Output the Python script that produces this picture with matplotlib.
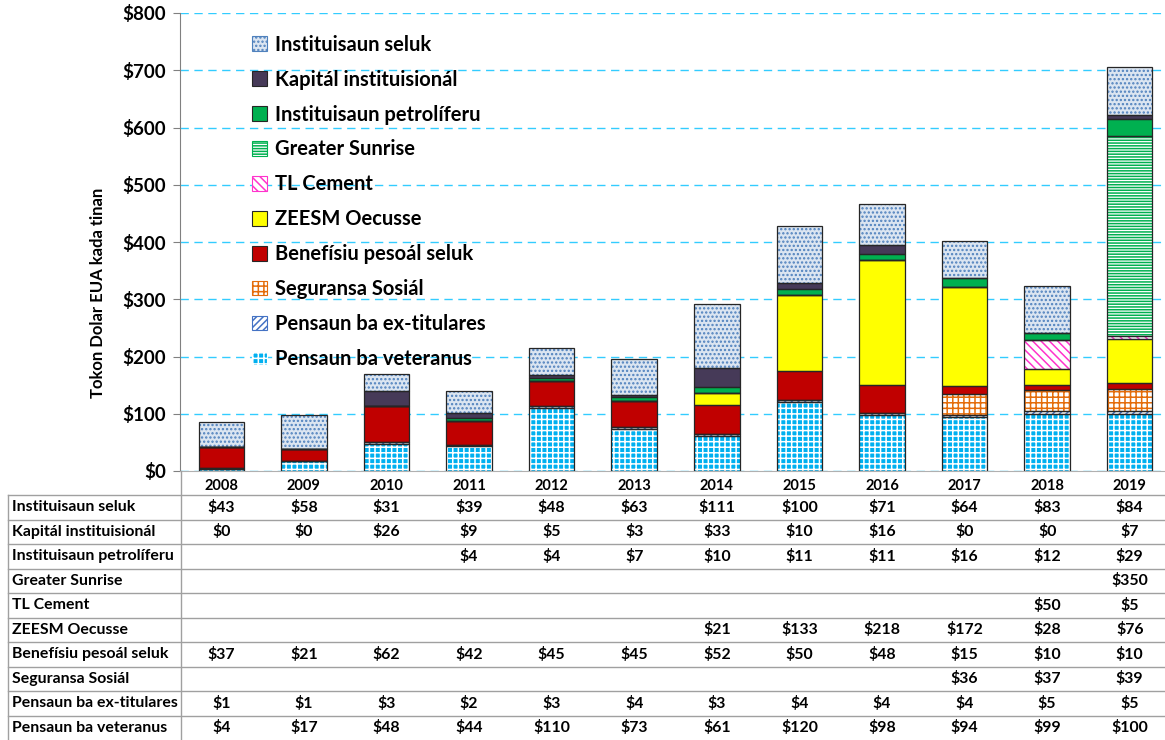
import numpy as np
import matplotlib
matplotlib.use("Agg")
import matplotlib.pyplot as plt
from matplotlib.patches import Patch
from matplotlib.lines import Line2D

plt.rcParams["font.family"] = ["Lato", "DejaVu Sans"]
plt.rcParams["font.weight"] = "bold"
plt.rcParams["hatch.linewidth"] = 1.1

years = [str(y) for y in range(2008, 2020)]
nan = np.nan

# stacked from bottom to top
series_names = [
    "Pensaun ba veteranus",
    "Pensaun ba ex-titulares",
    "Seguransa Sosiál",
    "Benefísiu pesoál seluk",
    "ZEESM Oecusse",
    "TL Cement",
    "Greater Sunrise",
    "Instituisaun petrolíferu",
    "Kapitál instituisionál",
    "Instituisaun seluk",
]
veteranus = [4, 17, 48, 44, 110, 73, 61, 120, 98, 94, 99, 100]
ex_titulares = [1, 1, 3, 2, 3, 4, 3, 4, 4, 4, 5, 5]
seguransa = [nan] * 9 + [36, 37, 39]
benefisiu = [37, 21, 62, 42, 45, 45, 52, 50, 48, 15, 10, 10]
zeesm = [nan] * 6 + [21, 133, 218, 172, 28, 76]
tl_cement = [nan] * 10 + [50, 5]
greater_sunrise = [nan] * 11 + [350]
petrol = [nan] * 3 + [4, 4, 7, 10, 11, 11, 16, 12, 29]
kapital = [0, 0, 26, 9, 5, 3, 33, 10, 16, 0, 0, 7]
inst_seluk = [43, 58, 31, 39, 48, 63, 111, 100, 71, 64, 83, 84]

series = [veteranus, ex_titulares, seguransa, benefisiu, zeesm,
          tl_cement, greater_sunrise, petrol, kapital, inst_seluk]

# (facecolor, hatch, hatch colour)
styles = [
    ("#00b0f0", "+++", "white"),
    ("white", "/////", "#4472c4"),
    ("white", "+++", "#e46c0a"),
    ("#c00000", None, None),
    ("#ffff00", None, None),
    ("white", "\\\\\\\\", "#ff33cc"),
    ("white", "------", "#00b050"),
    ("#00b050", None, None),
    ("#463a58", None, None),
    ("#dbe5f1", "....", "#4f81bd"),
]

W, H = 1165, 740
fig = plt.figure(figsize=(W / 100, H / 100), dpi=100)
ax = fig.add_axes([180 / W, 269 / H, 991 / W, 458 / H])

x = np.arange(len(years))
bottom = np.zeros(len(years))
handles = []
for name, vals, (fc, hatch, hc) in zip(series_names, series, styles):
    v = np.nan_to_num(np.array(vals, dtype=float))
    if hatch:
        ax.bar(x, v, 0.55, bottom=bottom, color=fc, hatch=hatch,
               edgecolor=hc, linewidth=0, zorder=2)
    else:
        ax.bar(x, v, 0.55, bottom=bottom, color=fc, linewidth=0, zorder=2)
    ax.bar(x, v, 0.55, bottom=bottom, fill=False, edgecolor="#262626",
           linewidth=0.9, zorder=3)
    handles.append(Patch(facecolor=fc, hatch=hatch,
                         edgecolor=hc if hc else "#262626", linewidth=0.8,
                         label=name))
    bottom += v

ax.set_xlim(-0.5, len(years) - 0.5)
ax.set_ylim(0, 800)
ax.set_yticks(range(0, 801, 100))
ax.set_yticklabels([f"${v}" for v in range(0, 801, 100)],
                   fontsize=13.5, fontweight="bold")
ax.set_xticks(x)
ax.set_xticklabels(years, fontsize=10.5, fontweight="bold")
ax.tick_params(axis="x", length=0, pad=6)
ax.tick_params(axis="y", length=5, color="#808080", pad=5)
ax.yaxis.grid(True, color="#33ccff", linestyle=(0, (6, 4)), linewidth=1,
              zorder=0)
ax.set_axisbelow(True)
for s in ["top", "right"]:
    ax.spines[s].set_visible(False)
ax.spines["left"].set_color("#808080")
ax.spines["bottom"].set_color("#b0b0b0")
ax.set_ylabel("Tokon Dolar EUA kada tinan", fontsize=12,
              fontweight="bold", labelpad=8)
ax.yaxis.set_label_coords(-0.075, 0.39)

leg = ax.legend(handles=handles[::-1], loc="upper left",
                bbox_to_anchor=(0.054, 0.992), frameon=False,
                prop={"size": 14.5, "weight": "bold"},
                handlelength=0.75, handleheight=0.75, handletextpad=0.4,
                labelspacing=0.74)

# data table below the chart
row_top = 495
row_h = 24.5
x_left, x_sep = 8, 181
fig.add_artist(Line2D([x_left / W, x_left / W],
                      [1 - row_top / H, 0], transform=fig.transFigure,
                      color="#a0a0a0", lw=1))
fig.add_artist(Line2D([x_sep / W, x_sep / W],
                      [1 - 471 / H, 0], transform=fig.transFigure,
                      color="#a0a0a0", lw=1))
table_rows = list(zip(series_names, series))[::-1]
for i, (name, vals) in enumerate(table_rows):
    y0 = row_top + i * row_h
    fig.add_artist(Line2D([x_left / W, 1], [1 - y0 / H, 1 - y0 / H],
                          transform=fig.transFigure, color="#a0a0a0", lw=1))
    yc = 1 - (y0 + row_h / 2) / H
    fig.text(12 / W, yc, name, fontsize=11.4, fontweight="bold",
             va="center", ha="left")
    for j, v in enumerate(vals):
        if np.isnan(v):
            continue
        xc = ax.transData.transform((j, 0))[0] / fig.dpi / fig.get_figwidth()
        fig.text(xc, yc, f"${int(v)}", fontsize=11.4, fontweight="bold",
                 va="center", ha="center")

fig.savefig("out.png", dpi=100)
